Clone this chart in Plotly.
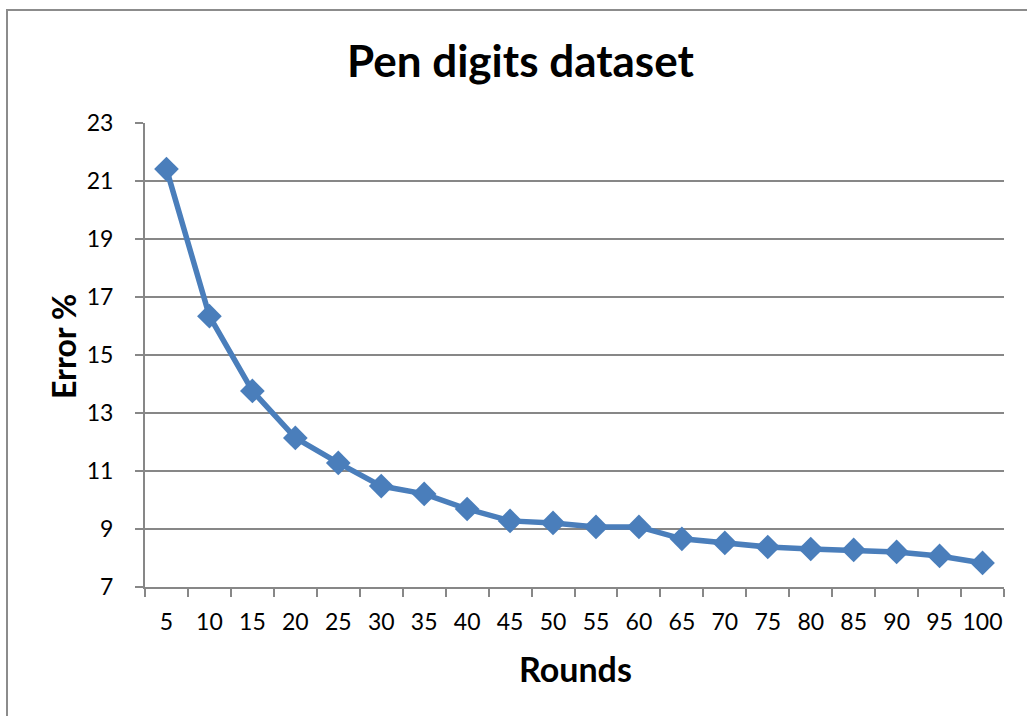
import plotly.graph_objects as go

rounds = ["5", "10", "15", "20", "25", "30", "35", "40", "45", "50",
          "55", "60", "65", "70", "75", "80", "85", "90", "95", "100"]
error_pct = [21.41, 16.34, 13.76, 12.14, 11.28, 10.48, 10.21, 9.69, 9.28, 9.21,
             9.07, 9.07, 8.66, 8.52, 8.38, 8.31, 8.28, 8.21, 8.07, 7.83]
y_ticks = [7, 9, 11, 13, 15, 17, 19, 21, 23]

W, H = 1027, 716
L, R, T, B = 145, 1004, 123, 587
pw, ph = R - L, B - T

def px_x(x):
    return (x - L) / pw

def px_y(y):
    return (B - y) / ph

FONT = "Lato"
GRID = "#878787"
BLUE = "#4A7EBB"

fig = go.Figure()
fig.add_trace(go.Scatter(
    x=rounds, y=error_pct, mode="lines+markers",
    line=dict(color=BLUE, width=5.5),
    marker=dict(symbol="diamond", size=19, color=BLUE),
    showlegend=False,
))

fig.update_layout(
    width=W, height=H,
    margin=dict(l=L, r=W - R, t=T, b=H - B, autoexpand=False),
    paper_bgcolor="white", plot_bgcolor="white",
    font=dict(family=FONT, color="black"),
    xaxis=dict(
        type="category", range=[-0.5, 19.5], automargin=False,
        tickson="boundaries", ticks="outside", ticklen=8, tickwidth=1.5,
        tickcolor=GRID, showline=True, linecolor=GRID, linewidth=2,
        showgrid=False, zeroline=False, tickangle=0,
        tickfont=dict(size=23, family=FONT), ticklabelstandoff=13,
    ),
    yaxis=dict(
        range=[7, 23], tickvals=y_ticks, ticks="outside", ticklen=8,
        tickwidth=1.5, tickcolor=GRID, showline=True, linecolor=GRID,
        linewidth=2, showgrid=True, gridcolor=GRID, gridwidth=1.5,
        zeroline=False, tickfont=dict(size=23, family=FONT),
        ticklabelstandoff=17, automargin=False,
    ),
    annotations=[
        dict(text="<b>Pen digits dataset</b>", xref="paper", yref="paper",
             x=px_x(520), y=px_y(60), xanchor="center", yanchor="middle",
             showarrow=False, font=dict(size=44, family=FONT)),
        dict(text="<b>Rounds</b>", xref="paper", yref="paper",
             x=px_x(575), y=px_y(668), xanchor="center", yanchor="middle",
             showarrow=False, font=dict(size=34, family=FONT)),
        dict(text="<b>Error %</b>", xref="paper", yref="paper",
             x=px_x(63), y=px_y(347), xanchor="center", yanchor="middle",
             textangle=-90, showarrow=False, font=dict(size=32, family=FONT)),
    ],
    shapes=[
        dict(type="rect", xref="paper", yref="paper",
             x0=px_x(7), x1=px_x(1040), y0=px_y(10), y1=px_y(730),
             line=dict(color="#8c8c8c", width=2), layer="below"),
    ],
)

fig.write_html("out.html")
